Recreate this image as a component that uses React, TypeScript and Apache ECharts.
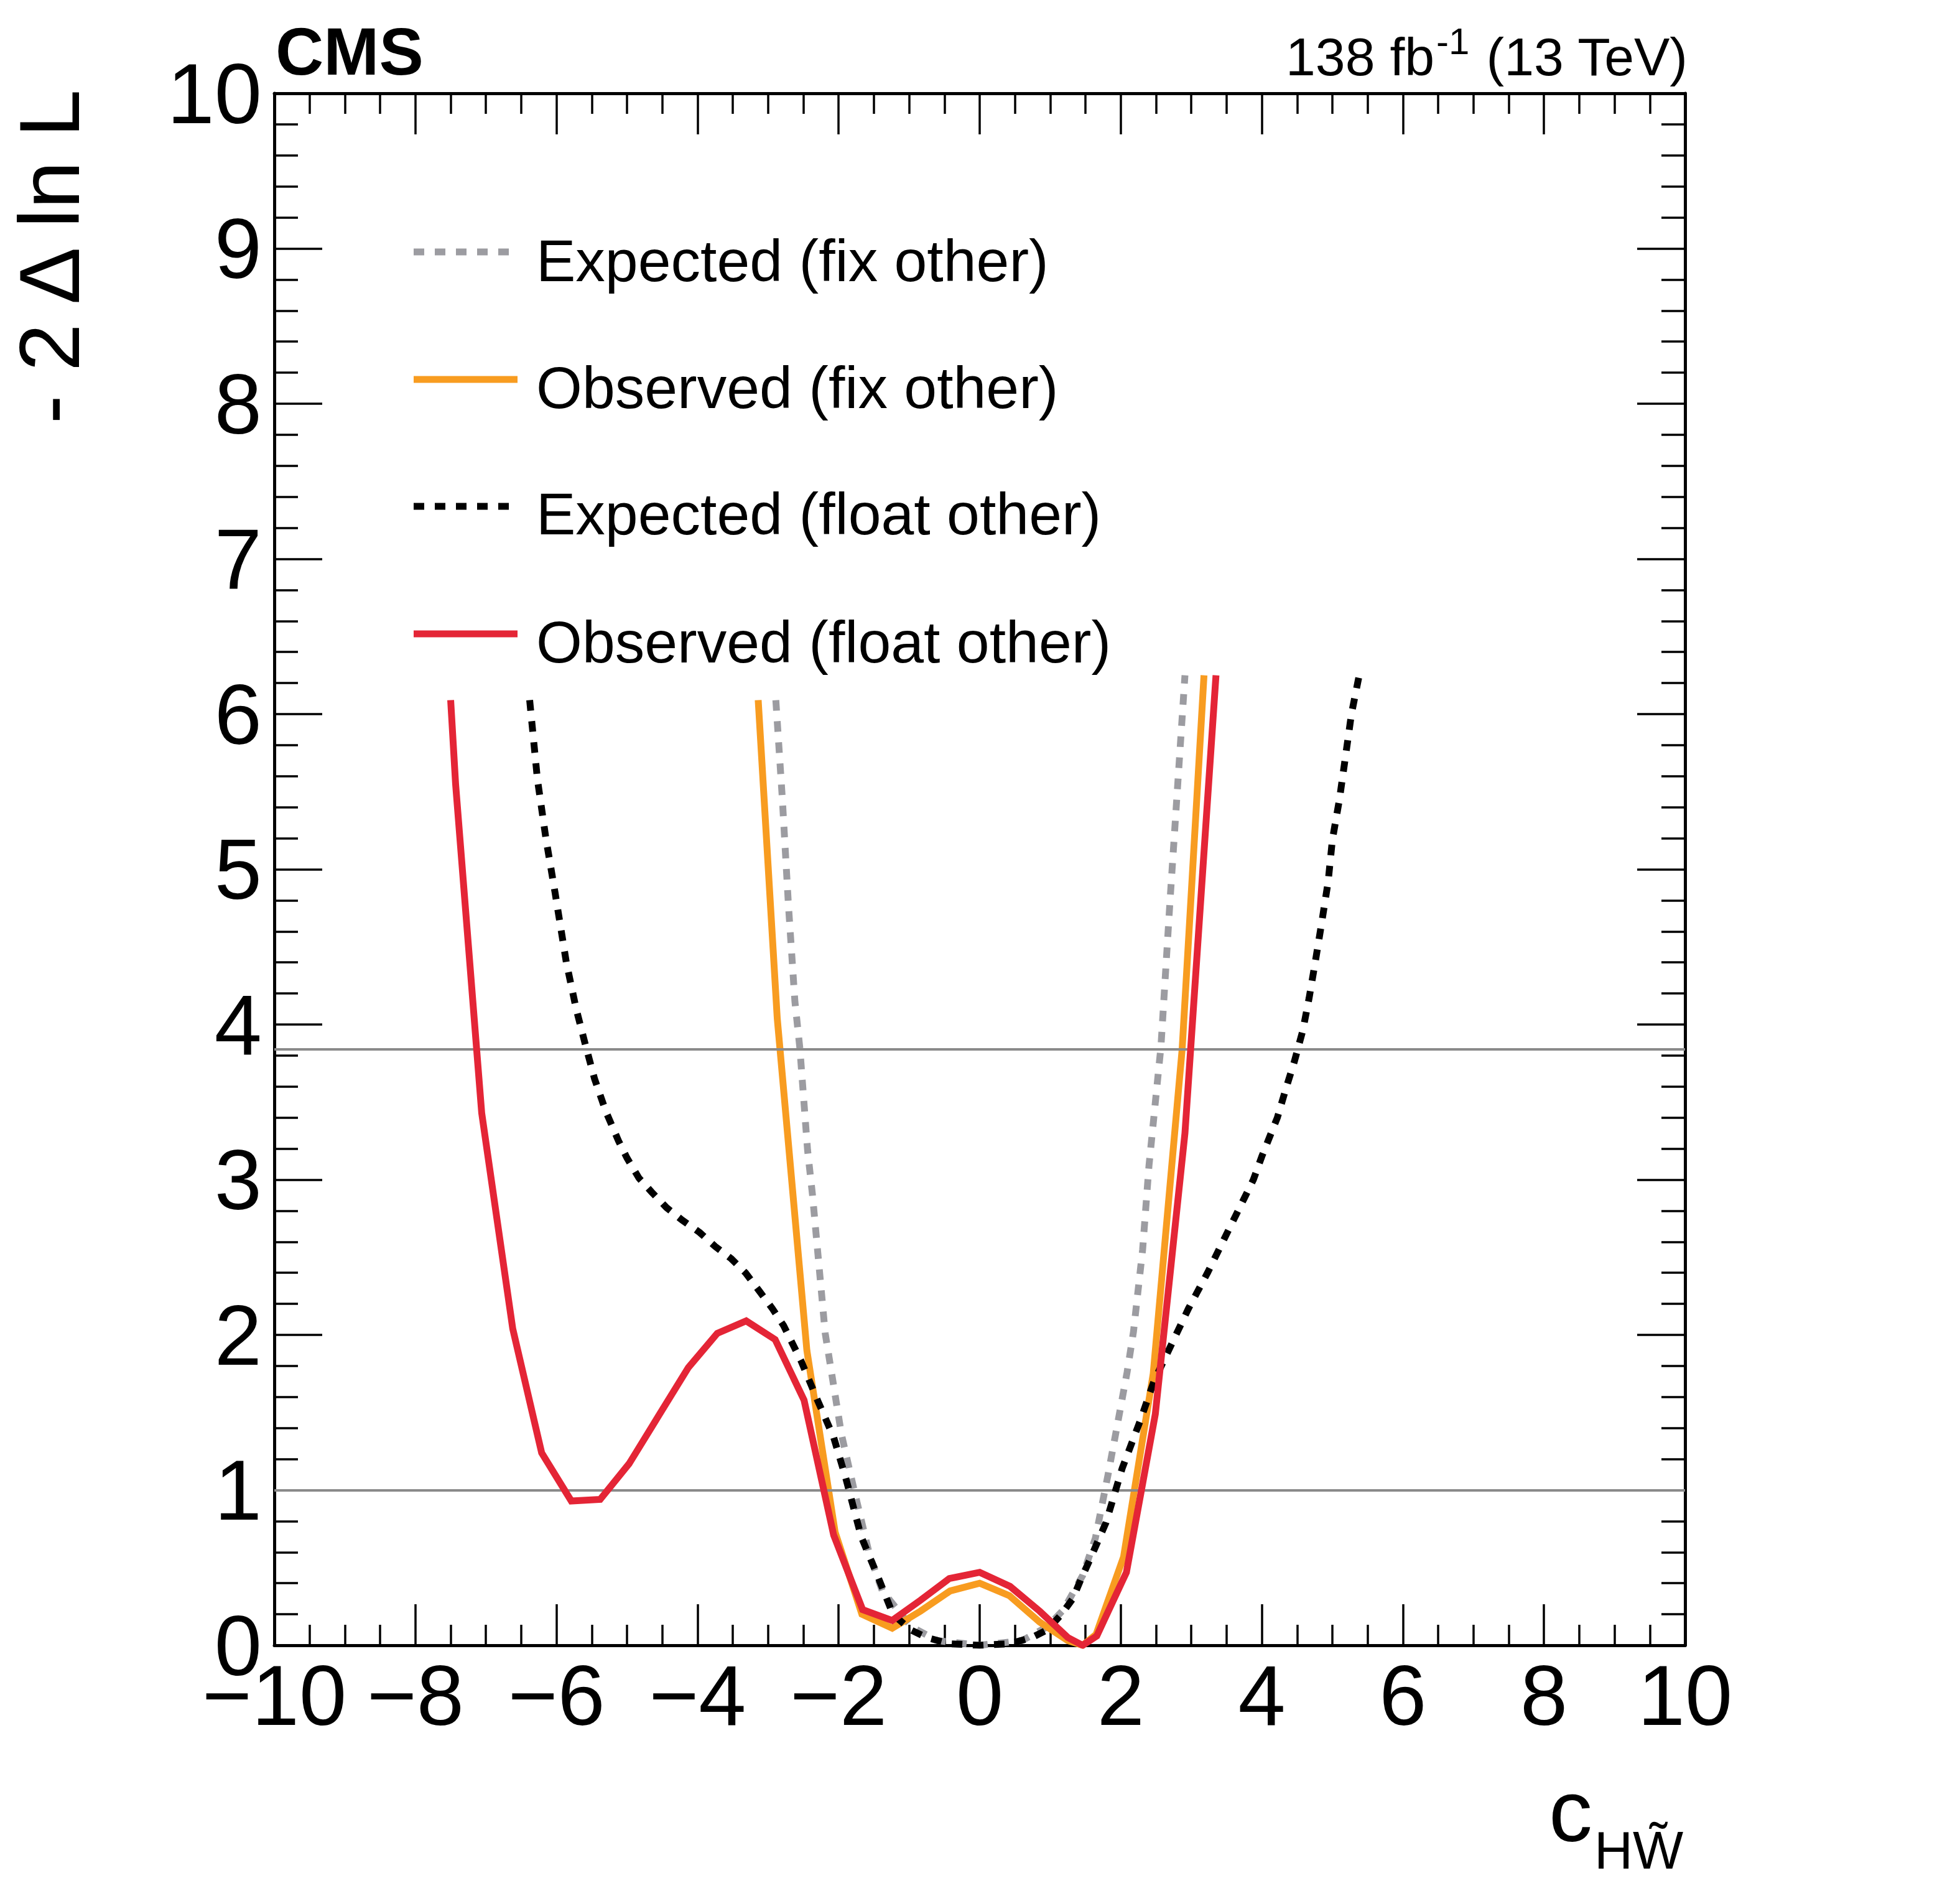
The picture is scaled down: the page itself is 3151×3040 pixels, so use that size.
import React, { useEffect, useRef } from "react";
import * as echarts from "echarts";

// ---------------- data ----------------
const xTickLabels = [-10, -8, -6, -4, -2, 0, 2, 4, 6, 8, 10];
const yTickLabels = [0, 1, 2, 3, 4, 5, 6, 7, 8, 9, 10];
const refLevels = [1, 3.84];

const seriesNames = [
  "Expected (fix other)",
  "Observed (fix other)",
  "Expected (float other)",
  "Observed (float other)",
];

// Expected (fix other) - grey dashed
const expFixX = [-2.89, -2.80, -2.71, -2.62, -2.55, -2.44, -2.37, -2.19, -1.96, -1.78, -1.56, -1.38, -0.97, -0.60, 0.00, 0.60, 0.96, 1.19, 1.46, 1.64, 1.82, 1.98, 2.09, 2.18, 2.31, 2.40, 2.57, 2.70, 2.91];
const expFixY = [6.09, 5.47, 4.76, 4.15, 3.85, 3.19, 2.90, 2.01, 1.36, 1.00, 0.58, 0.35, 0.12, 0.03, 0.00, 0.03, 0.12, 0.23, 0.45, 0.69, 1.10, 1.49, 1.76, 2.02, 2.55, 3.09, 3.86, 4.81, 6.25];

// Observed (fix other) - orange solid
const obsFixX = [-3.14, -2.87, -2.45, -2.05, -1.67, -1.24, -0.84, -0.42, 0.00, 0.42, 0.85, 1.25, 1.46, 1.65, 2.04, 2.46, 2.87, 3.18];
const obsFixY = [6.09, 4.04, 1.90, 0.73, 0.20, 0.11, 0.22, 0.35, 0.40, 0.32, 0.15, 0.03, 0.00, 0.07, 0.57, 1.75, 3.84, 6.25];

// Expected (float other) - black dotted
const expFloatX = [-6.38, -6.27, -6.15, -6.02, -5.86, -5.72, -5.59, -5.46, -5.30, -5.12, -5.00, -4.83, -4.65, -4.44, -4.22, -3.97, -3.75, -3.52, -3.32, -3.12, -2.94, -2.78, -2.53, -2.30, -2.07, -1.90, -1.68, -1.45, -1.23, -0.98, -0.75, -0.43, 0.00, 0.42, 0.74, 0.96, 1.16, 1.32, 1.43, 1.57, 1.79, 2.02, 2.27, 2.47, 2.72, 2.96, 3.23, 3.50, 3.75, 3.88, 4.00, 4.22, 4.35, 4.46, 4.58, 4.67, 4.76, 4.85, 4.94, 5.00, 5.10, 5.19, 5.27, 5.38];
const expFloatY = [6.09, 5.58, 5.20, 4.85, 4.40, 4.10, 3.87, 3.65, 3.44, 3.25, 3.14, 3.01, 2.92, 2.82, 2.74, 2.66, 2.57, 2.49, 2.40, 2.28, 2.17, 2.06, 1.83, 1.58, 1.34, 1.08, 0.70, 0.45, 0.20, 0.10, 0.05, 0.01, 0.00, 0.01, 0.05, 0.10, 0.20, 0.30, 0.42, 0.56, 0.79, 1.14, 1.44, 1.70, 1.94, 2.17, 2.40, 2.65, 2.88, 3.00, 3.15, 3.40, 3.60, 3.76, 3.96, 4.17, 4.41, 4.66, 4.92, 5.19, 5.45, 5.74, 6.00, 6.25];

// Observed (float other) - red solid
const obsFloatX = [-7.50, -7.43, -7.06, -6.62, -6.21, -5.79, -5.38, -4.97, -4.55, -4.13, -3.72, -3.31, -2.90, -2.49, -2.07, -1.66, -1.24, -0.84, -0.43, 0.00, 0.43, 0.85, 1.25, 1.46, 1.66, 2.08, 2.49, 2.91, 3.35];
const obsFloatY = [6.09, 5.55, 3.43, 2.04, 1.24, 0.93, 0.94, 1.17, 1.48, 1.79, 2.01, 2.09, 1.97, 1.58, 0.71, 0.23, 0.16, 0.29, 0.43, 0.47, 0.38, 0.22, 0.05, 0.00, 0.06, 0.47, 1.49, 3.30, 6.25];

const colors = ["#9c9ca1", "#f89c20", "#000000", "#e42536"];
const dashes: (number[] | "solid")[] = [[17, 17], "solid", [17, 17], "solid"];

// ---------------- layout ----------------
const FONT = "'Liberation Sans', Arial, Helvetica, sans-serif";
const W = 3151;
const H = 3040;
const G_LEFT = 441;
const G_TOP = 150;
const G_W = 2268;
const G_H = 2495;

const pair = (xs: number[], ys: number[]) => xs.map((x, i) => [x, ys[i]]);

const fmtMinus = (v: number) => (v < 0 ? "\u2212" + Math.abs(v) : String(v));

function buildOption() {
  const tickLine = { color: "#000", width: 3.5 };
  const axisLine = { show: true, onZero: false, lineStyle: { color: "#000", width: 5 } };

  const xBase = {
    type: "value",
    min: xTickLabels[0],
    max: xTickLabels[xTickLabels.length - 1],
    interval: 2,
    axisLine,
    axisTick: { show: true, inside: true, length: 66, lineStyle: tickLine },
    minorTick: { show: true, splitNumber: 4, length: 33, lineStyle: tickLine },
    splitLine: { show: false },
    minorSplitLine: { show: false },
  };
  const yBase = {
    type: "value",
    min: yTickLabels[0],
    max: yTickLabels[yTickLabels.length - 1],
    interval: 1,
    axisLine,
    axisTick: { show: true, inside: true, length: 77, lineStyle: tickLine },
    minorTick: { show: true, splitNumber: 5, length: 38, lineStyle: tickLine },
    splitLine: { show: false },
    minorSplitLine: { show: false },
  };

  const datasets = [
    pair(expFixX, expFixY),
    pair(obsFixX, obsFixY),
    pair(expFloatX, expFloatY),
    pair(obsFloatX, obsFloatY),
  ];

  const series: any[] = datasets.map((d, i) => ({
    type: "line",
    name: seriesNames[i],
    data: d,
    showSymbol: false,
    symbol: "none",
    silent: true,
    z: 3 + i,
    lineStyle: {
      color: colors[i],
      width: 11,
      type: dashes[i],
      join: "miter",
      cap: "butt",
    },
  }));

  series.push({
    type: "line",
    name: "levels",
    data: [],
    silent: true,
    z: 2,
    markLine: {
      silent: true,
      symbol: ["none", "none"],
      label: { show: false },
      lineStyle: { color: "#8a8a8a", width: 4, type: "solid" },
      data: refLevels.map((v) => ({ yAxis: v })),
    },
  });

  // legend drawn as graphic elements
  const legendLineY = [405, 610, 814, 1019];
  const legendTextY = [419, 623, 826, 1032];
  const legendEls: any[] = [];
  seriesNames.forEach((name, i) => {
    legendEls.push({
      type: "line",
      silent: true,
      shape: { x1: 665, y1: legendLineY[i], x2: 832, y2: legendLineY[i] },
      style: {
        stroke: colors[i],
        lineWidth: 11,
        lineDash: dashes[i] === "solid" ? null : (dashes[i] as number[]),
        lineCap: "butt",
      },
    });
    legendEls.push({
      type: "text",
      silent: true,
      x: 862,
      y: legendTextY[i],
      style: {
        text: name,
        fill: "#000",
        fontSize: 95,
        fontFamily: FONT,
        align: "left",
        verticalAlign: "middle",
      },
    });
  });

  const textEl = (
    text: string,
    x: number,
    y: number,
    fontSize: number,
    align = "left",
    extraStyle: any = {}
  ) => ({
    type: "text",
    silent: true,
    x,
    y,
    style: {
      text,
      fill: "#000",
      fontSize,
      fontFamily: FONT,
      align,
      verticalAlign: "middle",
      ...extraStyle,
    },
  });

  const graphic: any[] = [
    ...legendEls,
    // CMS label
    textEl("CMS", 443, 83, 107, "left", { fontWeight: "bold" }),
    // luminosity / energy
    textEl("138 fb", 2067, 91, 86, "left"),
    textEl("-1", 2309, 66, 60, "left"),
    textEl("(13 TeV)", 2713, 91, 86, "right"),
    // y axis title
    {
      type: "text",
      silent: true,
      x: 79,
      y: 144,
      rotation: Math.PI / 2,
      style: {
        text: "- 2 \u0394 ln L",
        fill: "#000",
        fontSize: 138,
        fontFamily: FONT,
        align: "right",
        verticalAlign: "middle",
      },
    },
    // x axis title c_{HW~}
    textEl("c", 2490, 2911, 140, "left", { lineHeight: 110 }),
    textEl("HW\u0303", 2563, 2974, 86, "left", { lineHeight: 70 }),
  ];

  const labelBase = {
    show: true,
    fontSize: 137,
    lineHeight: 80,
    color: "#000",
    fontFamily: FONT,
  };

  return {
    animation: false,
    backgroundColor: "#ffffff",
    grid: { left: G_LEFT, top: G_TOP, width: G_W, height: G_H, containLabel: false },
    xAxis: [
      {
        ...xBase,
        position: "bottom",
        axisLabel: { ...labelBase, margin: 40, formatter: fmtMinus },
      },
      { ...xBase, position: "top", axisLabel: { show: false } },
    ],
    yAxis: [
      {
        ...yBase,
        position: "left",
        axisLabel: { ...labelBase, margin: 20 },
      },
      { ...yBase, position: "right", axisLabel: { show: false } },
    ],
    series,
    graphic,
  };
}

export default function App() {
  const ref = useRef<HTMLDivElement>(null);
  useEffect(() => {
    if (!ref.current) return;
    const chart = echarts.init(ref.current, null, { renderer: "svg" });
    chart.setOption(buildOption() as any);
    return () => chart.dispose();
  }, []);
  return (
    <div
      ref={ref}
      style={{ position: "absolute", left: 0, top: 0, width: W, height: H, background: "#fff" }}
    />
  );
}
